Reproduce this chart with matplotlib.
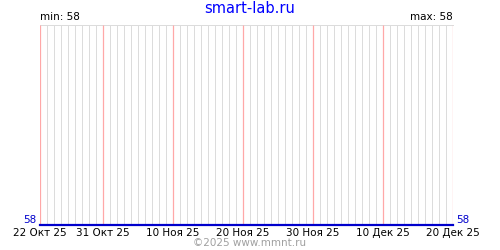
import matplotlib
matplotlib.use("Agg")
import matplotlib.pyplot as plt
import matplotlib.dates as mdates
import pandas as pd

# data: flat price at 58
dates = pd.to_datetime(["2025-10-22", "2025-12-20"])
values = [58, 58]

label_dates = pd.to_datetime(["2025-10-22", "2025-10-31", "2025-11-10", "2025-11-20",
                              "2025-11-30", "2025-12-10", "2025-12-20"])
label_text = ["22 Окт 25", "31 Окт 25", "10 Ноя 25", "20 Ноя 25",
              "30 Ноя 25", "10 Дек 25", "20 Дек 25"]

fig = plt.figure(figsize=(5, 2.5), dpi=100)
ax = fig.add_axes([0.08, 0.10, 0.826, 0.80])

ax.plot(dates, values, color="#0000cc", lw=1.6, clip_on=False, zorder=5)

ax.set_xlim(dates[0], dates[-1])
ax.set_ylim(min(values), max(values) + 1)

# daily grey lines (1 px wide), red ones at labelled dates
ax.xaxis.set_minor_locator(mdates.DayLocator())
ax.set_xticks(label_dates)
ax.set_xticklabels(label_text)
ax.grid(which="minor", axis="x", color="#dcdcdc", lw=0.72, antialiased=False)
ax.set_axisbelow(True)
ax.vlines(label_dates, 0, 1, transform=ax.get_xaxis_transform(),
          colors="#ffa8a8", lw=0.9, zorder=3)
ax.tick_params(axis="x", which="both", length=0, labelsize=7.5, pad=2)
ax.set_yticks([])

for s in ["left", "right", "bottom"]:
    ax.spines[s].set_visible(False)
ax.spines["top"].set_color("#dcdcdc")
ax.spines["top"].set_linewidth(0.72)

# value labels at both ends of the line
ax.text(-0.008, min(values), str(values[0]), transform=ax.get_yaxis_transform(),
        color="#0000cc", fontsize=7.5, ha="right", va="bottom")
ax.text(1.008, min(values), str(values[-1]), transform=ax.get_yaxis_transform(),
        color="#0000cc", fontsize=7.5, ha="left", va="bottom")

ax.text(0, 1.015, f"min: {min(values)}", transform=ax.transAxes, fontsize=7.5,
        ha="left", va="bottom")
ax.text(1, 1.015, f"max: {max(values)}", transform=ax.transAxes, fontsize=7.5,
        ha="right", va="bottom")

fig.text(0.5, 0.965, "smart-lab.ru", color="#0000ff", fontsize=10.5,
         ha="center", va="center")
fig.text(0.5, 0.028, "©2025 www.mmnt.ru", color="#a0a0a0", fontsize=7.5,
         ha="center", va="center")

fig.savefig("out.png", dpi=100)
